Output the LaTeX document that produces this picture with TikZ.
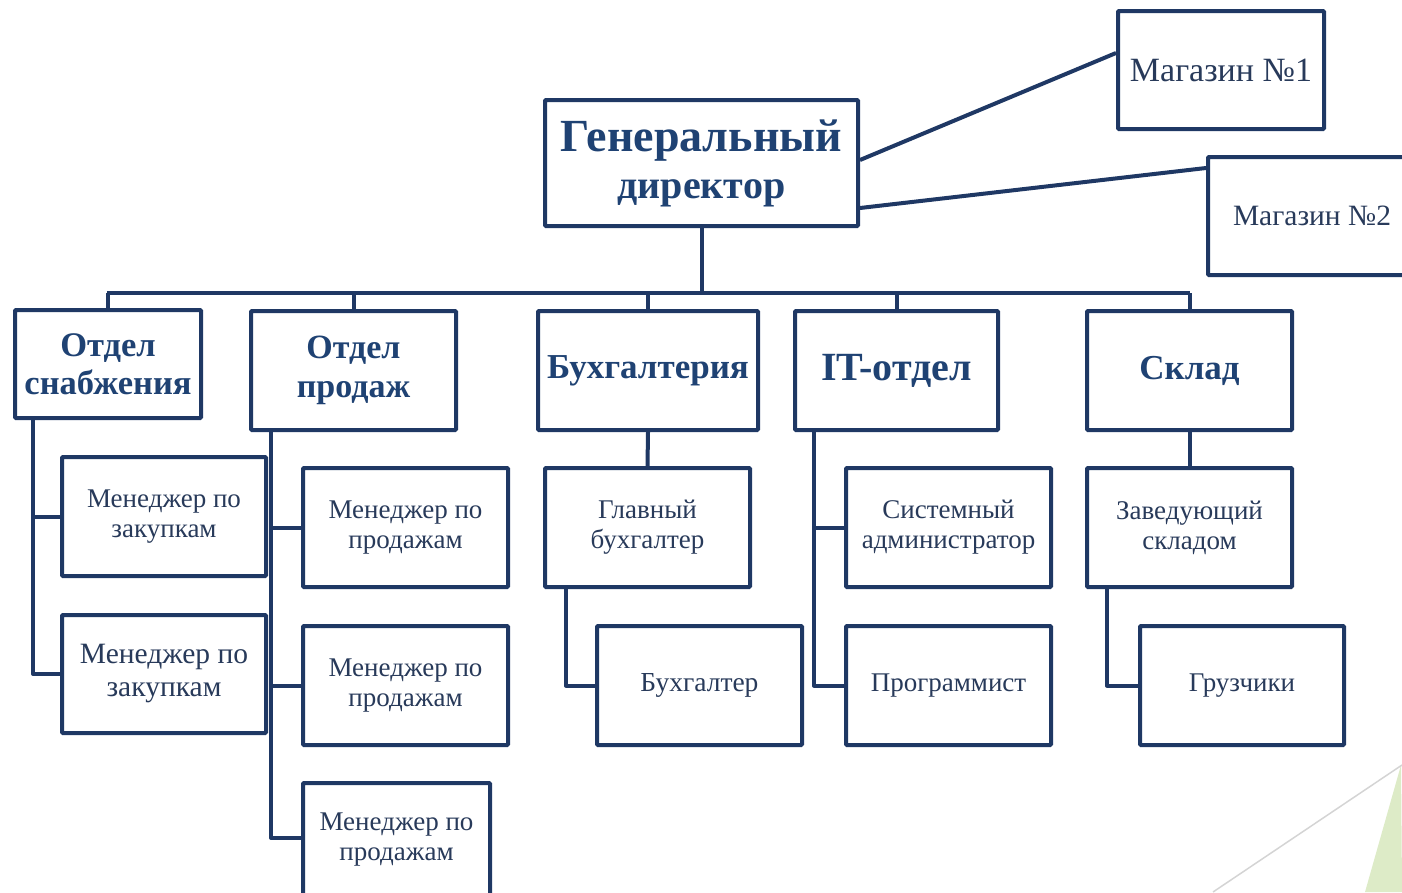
\documentclass[tikz,border=0pt]{standalone}
\usepackage{fontspec}
\setmainfont{Liberation Serif}
\definecolor{navy}{RGB}{31,56,100}
\definecolor{headtxt}{RGB}{31,66,115}
\definecolor{bodytxt}{RGB}{40,58,90}
\definecolor{lightgreen}{RGB}{221,235,199}
\definecolor{paleline}{RGB}{212,212,212}
\newcommand{\fs}[2]{\fontsize{#1}{#2}\selectfont}
\tikzset{
  box/.style={draw=navy, line width=4pt, rounded corners=1pt, fill=white, inner sep=0pt, align=center},
  headbox/.style={box, text=headtxt},
  bodybox/.style={box, text=bodytxt},
  conn/.style={draw=navy, line width=4pt, line join=round},
}
\begin{document}
\begin{tikzpicture}[x=1pt,y=-1pt]
\useasboundingbox (0,0) rectangle (1402,892);
\clip (0,0) rectangle (1402,892);
% decoration bottom right
\fill[lightgreen] (1401,765) -- (1365,892) -- (1402,892) -- cycle;
\draw[paleline, line width=1.5pt] (1213,892) -- (1402,765);

% top level
\node[headbox, font={\bfseries\fs{46}{47}}, minimum width=313, minimum height=126] (gd) at (701.5,163)
  {Генеральный\\{\fs{40}{47}директор}};
\node[bodybox, font={\fs{34}{36}}, minimum width=206, minimum height=118] (m1) at (1221,70)
  {Магазин №1};
\node[bodybox, font={\fs{29.5}{32}}, minimum width=208, minimum height=118] (m2) at (1312,216)
  {Магазин №2};

% departments
\node[headbox, font={\bfseries\fs{34.5}{38}}, minimum width=186, minimum height=108] (d1) at (108,364)
  {Отдел\\снабжения};
\node[headbox, font={\bfseries\fs{34}{39}}, minimum width=205, minimum height=119] (d2) at (353.5,370.5)
  {Отдел\\продаж};
\node[headbox, font={\bfseries\fs{35}{37}}, minimum width=220, minimum height=119] (d3) at (648,370.5)
  {Бухгалтерия};
\node[headbox, font={\bfseries\fs{40}{40}}, minimum width=203, minimum height=119] (d4) at (896.5,370.5)
  {IT-отдел};
\node[headbox, font={\bfseries\fs{35}{37}}, minimum width=205, minimum height=119] (d5) at (1189.5,370.5)
  {Склад};

% staff
\node[bodybox, font={\fs{27}{30}}, minimum width=204, minimum height=119] (z1) at (164,516.5)
  {Менеджер по\\закупкам};
\node[bodybox, font={\fs{29.5}{33}}, minimum width=204, minimum height=118] (z2) at (164,674)
  {Менеджер по\\закупкам};
\node[bodybox, font={\fs{27}{30}}, minimum width=205, minimum height=119] (p1) at (405.5,527.5)
  {Менеджер по\\продажам};
\node[bodybox, font={\fs{27}{30}}, minimum width=205, minimum height=119] (p2) at (405.5,685.5)
  {Менеджер по\\продажам};
\node[bodybox, font={\fs{27}{30}}, minimum width=187, minimum height=114] (p3) at (396.5,840)
  {Менеджер по\\продажам};
\node[bodybox, font={\fs{27}{30}}, minimum width=205, minimum height=119] (gb) at (647.5,527.5)
  {Главный\\бухгалтер};
\node[bodybox, font={\fs{27.5}{30}}, minimum width=205, minimum height=119] (b) at (699.5,685.5)
  {Бухгалтер};
\node[bodybox, font={\fs{27}{30}}, minimum width=205, minimum height=119] (sa) at (948.5,527.5)
  {Системный\\администратор};
\node[bodybox, font={\fs{27}{30}}, minimum width=205, minimum height=119] (pr) at (948.5,685.5)
  {Программист};
\node[bodybox, font={\fs{27}{30}}, minimum width=205, minimum height=119] (zs) at (1189.5,527.5)
  {Заведующий\\складом};
\node[bodybox, font={\fs{27}{30}}, minimum width=204, minimum height=119] (gr) at (1242,685.5)
  {Грузчики};

% connectors
\coordinate (busL) at (107,293);
\coordinate (busR) at (1189.5,293);
\draw[conn] (busL) -- (busR);
\draw[conn] (gd.south) -- (gd.south |- busL);
\draw[conn] (d1.north) -- (d1.north |- busL);
\draw[conn] (d2.north) -- (d2.north |- busL);
\draw[conn] (d3.north) -- (d3.north |- busL);
\draw[conn] (d4.north) -- (d4.north |- busL);
\draw[conn] (d5.north) -- (d5.north |- busL);

\draw[conn] ([yshift=3pt]gd.east) -- ([yshift=17pt]m1.west);
\draw[conn] ([yshift=-45pt]gd.east) -- ([yshift=48pt]m2.west);

\coordinate (d1b) at ([xshift=-75pt]d1.south);
\draw[conn] (d1b) |- (z2.west);
\draw[conn] (d1b |- z1.west) -- (z1.west);

\coordinate (d2b) at ([xshift=-82.5pt]d2.south);
\draw[conn] (d2b) |- ([yshift=2pt]p3.west);
\draw[conn] (d2b |- p1.west) -- (p1.west);
\draw[conn] (d2b |- p2.west) -- (p2.west);

\draw[conn] (d3.south) -- (gb.north);
\coordinate (gbb) at ([xshift=-81.5pt]gb.south);
\draw[conn] (gbb) |- (b.west);

\coordinate (d4b) at ([xshift=-82.5pt]d4.south);
\draw[conn] (d4b) |- (pr.west);
\draw[conn] (d4b |- sa.west) -- (sa.west);

\draw[conn] (d5.south) -- (zs.north);
\coordinate (zsb) at ([xshift=-82.5pt]zs.south);
\draw[conn] (zsb) |- (gr.west);
\end{tikzpicture}
\end{document}
